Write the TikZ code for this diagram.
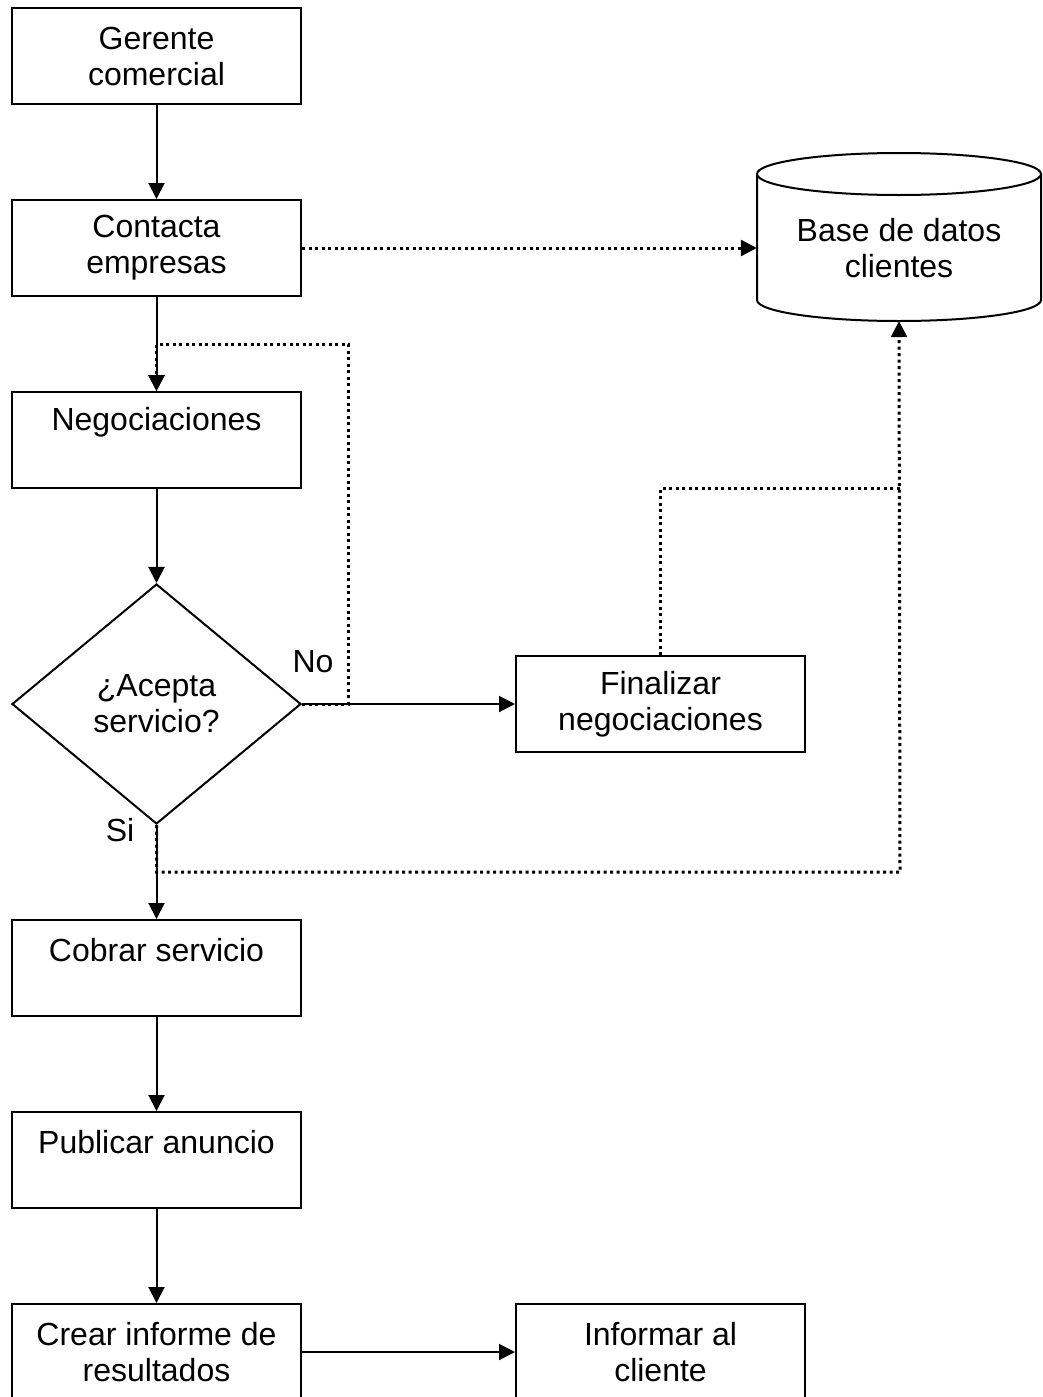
\documentclass[tikz,border=0pt]{standalone}
\usepackage{fontspec}
\setmainfont{Liberation Sans}
\usetikzlibrary{arrows.meta,shapes.geometric}
\begin{document}
\begin{tikzpicture}[x=1pt,y=-1pt,
  every node/.style={font=\fontsize{32}{36}\selectfont, align=center},
  box/.style={draw, line width=2pt, minimum width=289pt, minimum height=96pt, inner sep=0pt},
  decision/.style={draw, diamond, line width=2pt, aspect=1.204, minimum width=289pt, minimum height=240pt, inner sep=0pt},
  tip/.style={-{Triangle[length=16pt,width=16pt]}},
  conn/.style={line width=2pt, tip},
  dots/.style={line width=3pt, dash pattern=on 3pt off 3.5pt}
]
\useasboundingbox (0,0) rectangle (1042,1397);

% process boxes
\node[box] (ger) at (156.5,56) {Gerente\\comercial};
\node[box] (cont) at (156.5,248) {Contacta\\empresas};
\node[box, label={[yshift=18pt]center:Negociaciones}] (neg) at (156.5,440) {};
\node[decision] (dia) at (156.5,704) {¿Acepta\\servicio?};
\node[box] (fin) at (660.5,704) {Finalizar\\negociaciones};
\node[box, label={[yshift=18pt]center:Cobrar servicio}] (cob) at (156.5,968) {};
\node[box, label={[yshift=18pt]center:Publicar anuncio}] (pub) at (156.5,1160) {};
\node[box] (cre) at (156.5,1352) {Crear informe de\\resultados};
\node[box] (inf) at (660.5,1352) {Informar al\\cliente};

% database cylinder
\node[minimum width=284pt, minimum height=146pt, inner sep=0pt] (db) at (899,248) {Base de datos\\clientes};
\draw[line width=2pt] (757,174) -- (757,300) arc[start angle=180, end angle=360, x radius=142pt, y radius=21pt] -- (1041,174);
\draw[line width=2pt] (899,174) ellipse[x radius=142pt, y radius=21pt];

% branch labels
\node (no) at (313,662) {No};
\node (si) at (120,830) {Si};

% dotted data flows
\coordinate (loopR) at (348,344);
\coordinate (join) at (900,488);
\coordinate (siR) at (900,872);
\draw[dots, tip] (cont.east) -- (db.west);
\draw[dots, tip] (dia.east) -| (loopR) -| (neg.north);
\draw[dots] (fin.north) |- (join);
\draw[dots, tip] (dia.south) |- (siR) -- (db.south);

% main flow
\draw[conn] (ger) -- (cont);
\draw[conn] (cont) -- (neg);
\draw[conn] (neg) -- (dia);
\draw[conn] (dia) -- (fin);
\draw[conn] (dia) -- (cob);
\draw[conn] (cob) -- (pub);
\draw[conn] (pub) -- (cre);
\draw[conn] (cre) -- (inf);
\end{tikzpicture}
\end{document}
